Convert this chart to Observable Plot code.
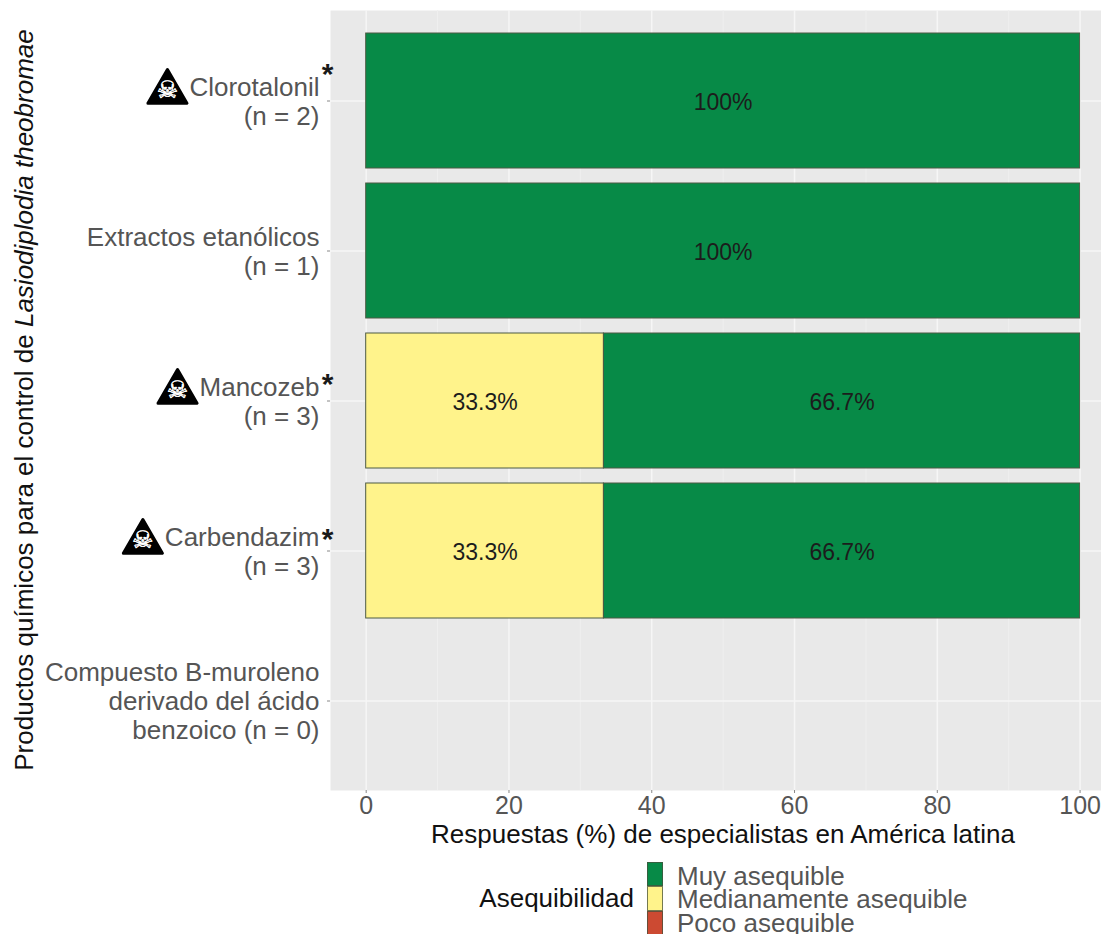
<!DOCTYPE html>
<html lang="es">
<head>
<meta charset="utf-8">
<script src="https://cdn.jsdelivr.net/npm/d3@7"></script>
<script src="https://cdn.jsdelivr.net/npm/@observablehq/plot@0.6"></script>
<style>
  html, body { margin: 0; padding: 0; background: #fff; overflow: hidden; }
  body { width: 1101px; height: 934px; position: relative; font-family: "Liberation Sans", Arial, sans-serif; }
  svg { display: block; }
  #legend { position: relative; width: 1101px; height: 84px; overflow: hidden; }
  #legend > div { position: absolute; white-space: nowrap; }
</style>
</head>
<body>
<div id="chart"></div>
<div id="legend"></div>
<script>
const products = [
  "Clorotalonil\n(n = 2)",
  "Extractos etanólicos\n(n = 1)",
  "Mancozeb\n(n = 3)",
  "Carbendazim\n(n = 3)",
  "Compuesto B-muroleno\nderivado del ácido\nbenzoico (n = 0)"
];
const levels = ["Muy asequible", "Medianamente asequible", "Poco asequible"];
const levelColors = ["#078A47", "#FFF38B", "#CC4A32"];
const muyAsequible = [100, 100, 66.7, 66.7, 0];
const medianamente = [0, 0, 33.3, 33.3, 0];
const pocoAsequible = [0, 0, 0, 0, 0];
const toxicProducts = [products[0], products[2], products[3]];
const xTicks = [0, 20, 40, 60, 80, 100];
const xMinorTicks = [10, 30, 50, 70, 90];

const rows = [
  ...products.map((p, i) => ({product: p, level: levels[1], value: medianamente[i]})),
  ...products.map((p, i) => ({product: p, level: levels[0], value: muyAsequible[i]})),
  ...products.map((p, i) => ({product: p, level: levels[2], value: pocoAsequible[i]}))
].filter(d => d.value > 0);

const labelFont = 'Liberation Sans';
const ctx = document.createElement("canvas").getContext("2d");
ctx.font = `26px "${labelFont}"`;
const iconDx = p => -(11 + ctx.measureText(p.split("\n")[0]).width + 22);
const asteriskDy = {[products[0]]: -27, [products[2]]: -17, [products[3]]: -12};

const plot = Plot.plot({
  width: 1101,
  height: 850,
  marginTop: 10,
  marginBottom: 60,
  marginLeft: 330,
  marginRight: 0,
  style: {fontFamily: labelFont, background: "transparent"},
  x: {domain: [-5, 103], label: null},
  y: {domain: products, paddingInner: 0.1, paddingOuter: 0.15, label: null},
  color: {domain: levels, range: levelColors},
  marks: [
    Plot.frame({fill: "#E9E9E9", stroke: null}),
    Plot.ruleX(xMinorTicks, {stroke: "#EFEFEF", strokeWidth: 1}),
    Plot.ruleX(xTicks, {stroke: "#F6F6F6", strokeWidth: 1.5}),
    Plot.ruleY(products, {y: d => d, stroke: "#F6F6F6", strokeWidth: 1.5}),
    Plot.barX(rows, Plot.stackX({
      x: "value", y: "product", fill: "level", order: null,
      stroke: "#4d5a44", strokeWidth: 1
    })),
    Plot.text(rows, Plot.stackX({
      x: "value", y: "product", order: null, dy: 2,
      text: d => d.value + "%", fontSize: 23, fill: "#1c1c1c"
    })),
    Plot.axisX({
      ticks: xTicks, tickSize: 3, tickPadding: 3, fontSize: 25,
      color: "#555", stroke: "#888", label: null
    }),
    Plot.axisY({
      tickSize: 3, tickPadding: 8, fontSize: 26, lineHeight: 1.115,
      color: "#555", stroke: "#888", label: null, textOverflow: null
    }),
    Plot.text(["Respuestas (%) de especialistas en América latina"], {
      frameAnchor: "bottom", dx: 7, dy: 52, fontSize: 26, fill: "#111"
    }),
    ...toxicProducts.flatMap(p => [
      Plot.dot([p], {
        x: () => -5, y: d => d, dx: iconDx(p), dy: -9,
        symbol: "triangle", r: 14.5, fill: "#000", stroke: "#000",
        strokeWidth: 3, strokeLinejoin: "round"
      }),
      Plot.text([p], {
        x: () => -5, y: d => d, dx: iconDx(p), dy: -11,
        text: () => "☠", fontFamily: "DejaVu Sans", fontSize: 24, fill: "#fff",
        stroke: "#fff", strokeWidth: 0.5
      }),
      Plot.text([p], {
        x: () => -5, y: d => d, dx: -3, dy: asteriskDy[p],
        text: () => "*", fontSize: 30, fontWeight: "bold", fill: "#1a1a1a"
      })
    ])
  ]
});
document.getElementById("chart").append(plot);

// The Y title has an italic species name, so it needs mixed tspans.
const yTitle = d3.select(plot).append("text")
  .attr("transform", "translate(24,400) rotate(-90)")
  .attr("text-anchor", "middle")
  .attr("dominant-baseline", "central")
  .attr("font-size", 26)
  .attr("font-family", labelFont)
  .attr("fill", "#111");
yTitle.append("tspan").text("Productos químicos para el control de ");
yTitle.append("tspan").attr("font-style", "italic").text("Lasiodiplodia theobromae");

// Legend (below the SVG, whose top sits at y = 850)
const legend = d3.select("#legend");
const rowH = 24.5, labelStep = 23.5, legendTop = 11.5;
legend.append("div").text("Asequibilidad")
  .style("right", (1101 - 634) + "px").style("top", (legendTop + rowH * 1.5 - 14) + "px")
  .style("font-size", "26px").style("line-height", "28px").style("color", "#111");
levels.forEach((lab, i) => {
  legend.append("div")
    .style("left", "647px").style("top", (legendTop + rowH * i) + "px")
    .style("width", "16px").style("height", rowH + "px")
    .style("box-sizing", "border-box")
    .style("border", "1px solid rgba(70,80,60,.75)")
    .style("background", levelColors[i]);
  legend.append("div").text(lab)
    .style("left", "677px").style("top", (legendTop + 2 + labelStep * i) + "px")
    .style("font-size", "26px").style("line-height", "24px").style("color", "#555");
});
</script>
</body>
</html>
